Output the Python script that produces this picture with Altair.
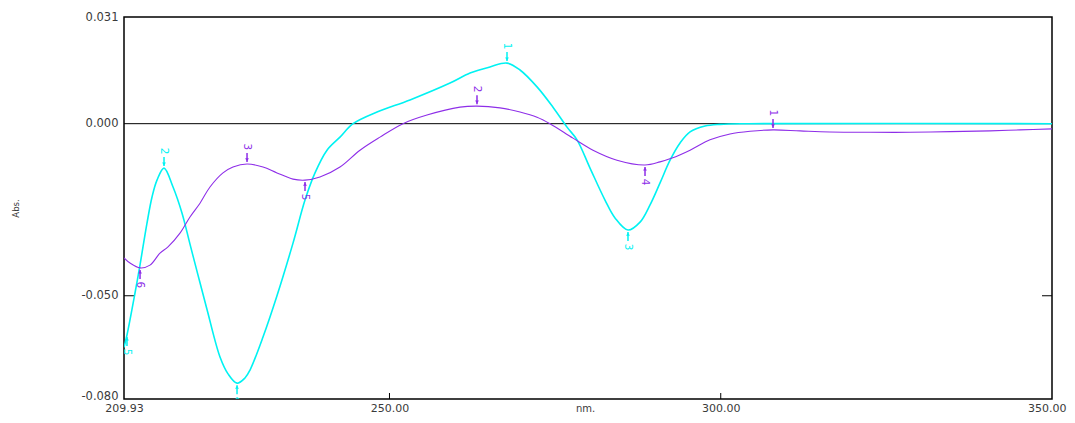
import altair as alt
import pandas as pd

# ---- data (wavelength nm, absorbance) ----
cyan_nm = [209.93, 210.38, 211.59, 212.35, 213.40, 214.16, 214.91, 215.97, 217.33, 218.69,
           219.89, 221.10, 222.46, 224.42, 225.63, 226.99, 228.19, 228.95, 230.91,
           233.02, 235.44, 237.25, 238.76, 240.57, 242.53, 244.50, 248.12, 253.10, 259.14,
           262.16, 265.17, 267.74, 269.70, 272.27, 274.68, 276.80, 278.31, 280.27, 282.53,
           284.04, 286.00, 287.82, 289.33, 290.84, 292.35, 293.86, 295.37, 297.63, 299.90,
           304.12, 350.00]
cyan_abs = [-0.0650, -0.0614, -0.0492, -0.0410, -0.0289, -0.0213, -0.0164, -0.0129, -0.0184, -0.0260,
            -0.0350, -0.0440, -0.0540, -0.0678, -0.0727, -0.0754, -0.0739, -0.0716, -0.0620,
            -0.0500, -0.0347, -0.0222, -0.0143, -0.0077, -0.0039, 0.0000, 0.0034, 0.0069, 0.0118,
            0.0147, 0.0165, 0.0176, 0.0156, 0.0107, 0.0048, -0.0010, -0.0047, -0.0129, -0.0222,
            -0.0274, -0.0309, -0.0286, -0.0236, -0.0172, -0.0106, -0.0056, -0.0024, -0.0007, -0.0002,
            0.0000, 0.0000]

purple_nm = [209.93, 210.84, 212.35, 213.85, 215.36, 216.57, 218.38, 219.89, 221.40, 222.91,
             224.87, 226.38, 228.50, 230.91, 233.02, 235.44, 237.25, 239.51, 242.53, 245.55,
             248.57, 252.04, 255.66, 260.65, 263.21, 266.68, 269.70, 272.27, 274.23, 277.70,
             280.72, 284.34, 288.57, 290.84, 292.65, 295.37, 298.38, 301.40, 304.42, 307.89,
             311.97, 316.46, 322.54, 328.57, 334.61, 340.64, 345.17, 350.00]
purple_abs = [-0.0390, -0.0405, -0.0419, -0.0411, -0.0376, -0.0358, -0.0318, -0.0271, -0.0231, -0.0184,
              -0.0143, -0.0126, -0.0117, -0.0126, -0.0143, -0.0161, -0.0164, -0.0155, -0.0126, -0.0077,
              -0.0039, 0.0000, 0.0025, 0.0048, 0.0051, 0.0046, 0.0034, 0.0019, 0.0000, -0.0042,
              -0.0077, -0.0106, -0.0120, -0.0111, -0.0100, -0.0077, -0.0047, -0.0030, -0.0022, -0.0018,
              -0.0021, -0.0024, -0.0025, -0.0025, -0.0023, -0.0021, -0.0018, -0.0015]

# peak / valley picks
pick_series = ["cyan", "cyan", "cyan", "cyan", "cyan",
               "purple", "purple", "purple", "purple", "purple", "purple"]
pick_nm = [267.74, 215.97, 286.00, 226.99, 210.38,
           307.89, 263.21, 228.50, 288.57, 237.25, 212.35]
pick_abs = [0.0176, -0.0129, -0.0309, -0.0754, -0.0614,
            -0.0018, 0.0051, -0.0117, -0.0120, -0.0164, -0.0419]
pick_label = ["1", "2", "3", "4", "5", "1", "2", "3", "4", "5", "6"]
pick_kind = ["peak", "peak", "valley", "valley", "valley",
             "peak", "peak", "peak", "valley", "valley", "valley"]

y_ticks = [0.031, 0.0, -0.05, -0.08]
x_ticks = [209.93, 250.0, 300.0, 350.0]
inner_y_ticks = [-0.05]
inner_x_ticks = [250.0, 300.0]

series_colors = ["#00F2F2", "#8E2EE8"]
label_colors = ["#20E4F4", "#B060FF"]

lines = pd.concat([
    pd.DataFrame({"nm": cyan_nm, "abs": cyan_abs, "series": "cyan"}),
    pd.DataFrame({"nm": purple_nm, "abs": purple_abs, "series": "purple"}),
])
picks = pd.DataFrame({"series": pick_series, "nm": pick_nm, "abs": pick_abs,
                      "label": pick_label, "kind": pick_kind})

xscale = alt.Scale(domain=[209.93, 350.0], nice=False, zero=False)
yscale = alt.Scale(domain=[-0.080, 0.031], nice=False, zero=False)

FONT = "DejaVu Sans"
TXT = "#3a3a3a"

X = alt.X("nm:Q", scale=xscale,
          axis=alt.Axis(values=x_ticks, title="nm.", ticks=False, domain=False, grid=False,
                        labelExpr="format(datum.value, '.2f')",
                        labelFont=FONT, labelFontSize=11, labelColor=TXT,
                        labelPadding=3, labelFlush=False,
                        labelAlign={"condition": {"test": "datum.value >= 349.99", "value": "right"},
                                    "value": "center"},
                        labelOffset={"condition": {"test": "datum.value >= 349.99", "value": 14},
                                     "value": 0},
                        titleFont=FONT, titleFontSize=10, titleFontWeight="normal",
                        titleColor=TXT, titleX=461, titleY=4, titleBaseline="top"))
Y = alt.Y("abs:Q", scale=yscale,
          axis=alt.Axis(values=y_ticks, title="Abs.", ticks=False, domain=False, grid=False,
                        labelExpr="replace(format(datum.value, '.3f'), '\u2212', '-')",
                        labelFont=FONT, labelFontSize=11.5, labelColor=TXT,
                        labelPadding=6, labelFlush=False,
                        labelBaseline={"condition": {"test": "datum.value <= -0.079", "value": "alphabetic"},
                                       "value": "middle"},
                        titleFont=FONT, titleFontSize=8.5, titleFontWeight="normal",
                        titleColor=TXT, titleX=-104, titleY=191, titleAngle=-90))

color = alt.Color("series:N", scale=alt.Scale(domain=["cyan", "purple"], range=series_colors),
                  legend=None)
lcolor = alt.Color("series:N", scale=alt.Scale(domain=["cyan", "purple"], range=label_colors),
                   legend=None)

zero = alt.Chart(pd.DataFrame({"abs": [0.0]})).mark_rule(color="black", strokeWidth=1).encode(
    y=alt.Y("abs:Q", scale=yscale))

ytick_l = alt.Chart(pd.DataFrame({"abs": inner_y_ticks})).mark_rule(color="black").encode(
    y=alt.Y("abs:Q", scale=yscale), x=alt.value(0), x2=alt.value(10))
ytick_r = alt.Chart(pd.DataFrame({"abs": inner_y_ticks})).mark_rule(color="black").encode(
    y=alt.Y("abs:Q", scale=yscale), x=alt.value(918), x2=alt.value(928))
xtick = alt.Chart(pd.DataFrame({"nm": inner_x_ticks})).mark_rule(color="black").encode(
    x=alt.X("nm:Q", scale=xscale), y=alt.value(382), y2=alt.value(376))

cyan_line = alt.Chart(lines[lines.series == "cyan"]).mark_line(
    strokeWidth=1.6, interpolate="catmull-rom", clip=True).encode(x=X, y=Y, color=color)
purple_line = alt.Chart(lines[lines.series == "purple"]).mark_line(
    strokeWidth=1.1, interpolate="catmull-rom", clip=True).encode(x=X, y=Y, color=color)

pk = picks[picks.kind == "peak"]
vl = picks[picks.kind == "valley"]

def markers(df, sign):
    base = alt.Chart(df)
    enc = dict(x=alt.X("nm:Q", scale=xscale), y=alt.Y("abs:Q", scale=yscale))
    rule = base.mark_rule(strokeWidth=1.5, yOffset=sign * 2, y2Offset=sign * 11, clip=True).encode(
        y2=alt.Y2("abs:Q"), color=color, **enc)
    head = base.mark_point(shape="triangle-down" if sign < 0 else "triangle-up", filled=True,
                           size=14, yOffset=sign * 4, opacity=1, clip=True).encode(color=color, **enc)
    txt = base.mark_text(angle=90, font=FONT, fontSize=10.5, yOffset=sign * 17,
                         clip=sign > 0).encode(text="label:N", color=lcolor, **enc)
    return [rule, head, txt]

layers = [zero, ytick_l, ytick_r, xtick, cyan_line, purple_line] + markers(pk, -1) + markers(vl, 1)

chart = alt.layer(*layers).properties(
    width=928, height=382,
    padding={"left": 116, "top": 9, "right": 15, "bottom": 16},
    autosize=alt.AutoSizeParams(type="none"),
    background="white",
).configure_view(stroke="black", strokeWidth=1.5)

chart.save("out.html", embed_options={"renderer": "svg", "actions": False})
